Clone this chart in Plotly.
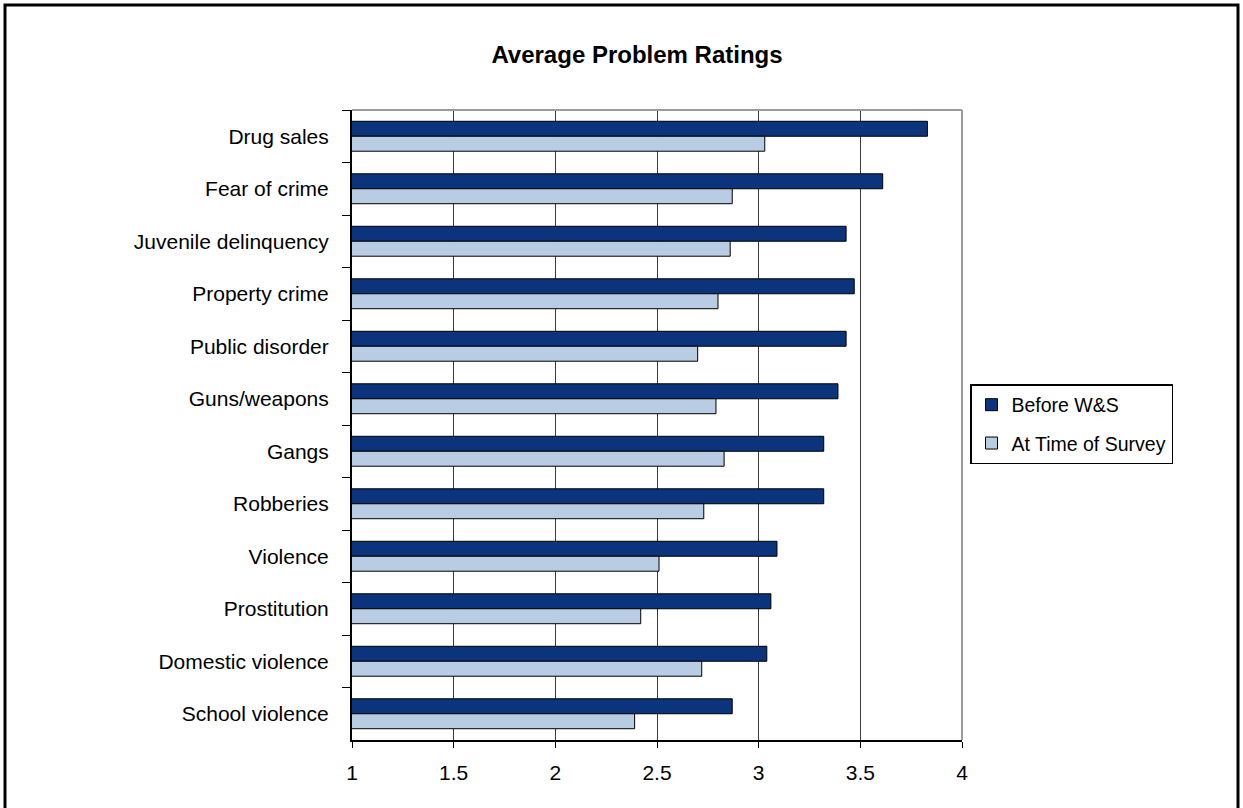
import plotly.graph_objects as go

# Problem categories, top to bottom
categories = [
    "Drug sales", "Fear of crime", "Juvenile delinquency", "Property crime",
    "Public disorder", "Guns/weapons", "Gangs", "Robberies", "Violence",
    "Prostitution", "Domestic violence", "School violence",
]
# Average rating before Weed & Seed
before_ws = [3.83, 3.61, 3.43, 3.47, 3.43, 3.39, 3.32, 3.32, 3.09, 3.06, 3.04, 2.87]
# Average rating at time of survey
at_survey = [3.03, 2.87, 2.86, 2.80, 2.70, 2.79, 2.83, 2.73, 2.51, 2.42, 2.72, 2.39]
x_ticks = [1, 1.5, 2, 2.5, 3, 3.5, 4]

W, H = 1243, 808
L, R, T, B = 352, 281, 110, 68
PW, PH = W - L - R, H - T - B

def px(x):
    return (x - L) / PW

def py(y):
    return (H - B - y) / PH

FONT = "Arial, Liberation Sans, sans-serif"

fig = go.Figure()
fig.add_trace(go.Bar(
    y=categories, x=before_ws, orientation="h", name="Before W&S",
    marker=dict(color="#0B347D", line=dict(color="#000000", width=1)),
    legendgroup="a",
))
fig.add_trace(go.Bar(
    y=categories, x=at_survey, orientation="h", name="At Time of Survey",
    marker=dict(color="#B8CCE4", line=dict(color="#000000", width=1)),
    legendgroup="b",
))

fig.update_layout(
    width=W, height=H,
    margin=dict(l=L, r=R, t=T, b=B, pad=0),
    paper_bgcolor="white", plot_bgcolor="white",
    barmode="group", bargap=0.43, bargroupgap=0,
    font=dict(family=FONT, size=21, color="black"),
    title=dict(
        text="<b>Average Problem Ratings</b>",
        x=637 / W, xref="container", xanchor="center",
        y=1 - 55 / H, yref="container", yanchor="middle",
        font=dict(family=FONT, size=24, color="black"),
    ),
    legend=dict(
        x=px(970), y=py(424), xanchor="left", yanchor="middle",
        bordercolor="black", borderwidth=1.5, bgcolor="white",
        font=dict(family=FONT, size=19.5, color="black"),
        traceorder="grouped", tracegroupgap=10, itemwidth=30,
    ),
    showlegend=True,
)

fig.update_xaxes(
    range=[1, 4], tickvals=x_ticks, ticktext=[f"{v:g}" for v in x_ticks],
    showgrid=True, gridcolor="#3a3a3a", gridwidth=1,
    showline=True, linecolor="black", linewidth=2,
    ticks="outside", ticklen=6, tickcolor="black", tickwidth=1,
    zeroline=False, fixedrange=True, ticklabelstandoff=7,
)
fig.update_yaxes(
    type="category", categoryorder="array", categoryarray=categories,
    autorange="reversed", tickson="boundaries",
    showgrid=False, showline=True, linecolor="black", linewidth=2,
    ticks="outside", ticklen=8, tickcolor="black", tickwidth=1,
    ticklabelstandoff=17,
)

# plot-area frame (top and right) and outer chart border
fig.add_shape(type="line", xref="paper", yref="paper", x0=0, x1=1, y0=1, y1=1,
              line=dict(color="#9a9a9a", width=2), layer="above")
fig.add_shape(type="line", xref="paper", yref="paper", x0=1, x1=1, y0=0, y1=1,
              line=dict(color="#9a9a9a", width=2), layer="above")
fig.add_shape(type="rect", xref="paper", yref="paper",
              x0=px(5), x1=px(1238), y0=py(830), y1=py(5),
              line=dict(color="black", width=3), fillcolor="rgba(0,0,0,0)")

fig.write_html("out.html")
